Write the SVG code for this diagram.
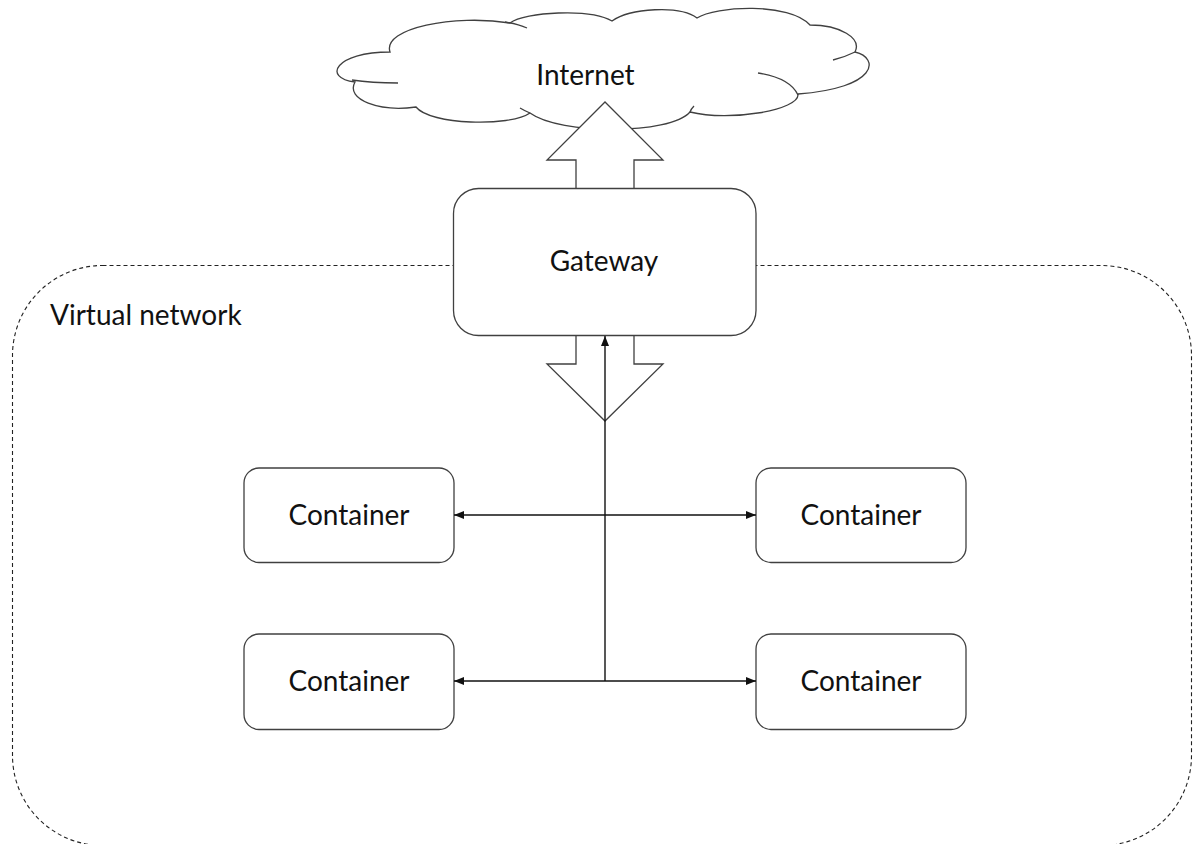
<svg xmlns="http://www.w3.org/2000/svg" width="1193" height="844" viewBox="0 0 1193 844">
<defs>
<style>
.box{fill:#fff;stroke:#404040;stroke-width:1.3}
.fat{fill:#fff;stroke:#404040;stroke-width:1.3;stroke-linejoin:miter}
.cloud{fill:#fff;stroke:#404040;stroke-width:1.3}
.inner{fill:none;stroke:#404040;stroke-width:1.3}
.dash{fill:none;stroke:#222;stroke-width:1.1;stroke-dasharray:4 3}
.lbl{font-family:Lato,"Liberation Sans",sans-serif;font-size:28px;fill:#111}
.conn{fill:none;stroke:#111;stroke-width:1.4}
</style>
<marker id="ah" viewBox="0 0 10 8" refX="10" refY="4" markerWidth="10" markerHeight="8" markerUnits="userSpaceOnUse" orient="auto-start-reverse">
<path d="M0,0 L10,4 L0,8 Z" fill="#111"/>
</marker>
</defs>

<g id="virtual-network">
<rect class="dash" x="12.5" y="265.5" width="1179" height="580" rx="90" ry="90"/>
<text class="lbl" x="50" y="325">Virtual network</text>
</g>

<g id="internet">
<path class="cloud" d="M390,52 C382,28 455,14 510,23 C525,12 590,8 612,21 C630,8 680,5 697,18 C715,6 790,2 810,25 C840,25 862,38 855,52 C880,58 878,88 798,94 C800,110 730,122 690,112 C670,135 560,135 530,113 C510,127 430,125 416,107 C380,112 345,100 355,82 C322,78 335,52 390,52 Z"/>
<path class="inner" d="M352,80 C365,82 385,83 398,83"/>
<path class="inner" d="M505,22 Q518,24 527,28"/>
<path class="inner" d="M855,52 Q845,57 833,60"/>
<path class="inner" d="M758,73 Q790,78 798,95"/>
<path class="inner" d="M690,112 Q691,109 694,106"/>
<path class="inner" d="M530,113 Q525,111 520,108"/>
<text class="lbl" x="585.5" y="85" text-anchor="middle">Internet</text>
</g>

<g id="arrow-up">
<polygon class="fat" points="576,189 576,160 547,160 605,102 663,160 634,160 634,189"/>
</g>
<g id="arrow-down">
<polygon class="fat" points="576,335 576,364 547,364 605,421 663,364 634,364 634,335"/>
</g>

<g id="gateway">
<rect class="box" x="453.5" y="188.5" width="302.5" height="147" rx="25" ry="25"/>
<text class="lbl" x="604" y="271" text-anchor="middle">Gateway</text>
</g>

<g id="container-tl">
<rect class="box" x="244" y="468" width="210" height="94.5" rx="15" ry="15"/>
<text class="lbl" x="349" y="525" text-anchor="middle">Container</text>
</g>
<g id="container-tr">
<rect class="box" x="756" y="468" width="210" height="94.5" rx="15" ry="15"/>
<text class="lbl" x="861" y="525" text-anchor="middle">Container</text>
</g>
<g id="container-bl">
<rect class="box" x="244" y="634" width="210" height="95.5" rx="15" ry="15"/>
<text class="lbl" x="349" y="691" text-anchor="middle">Container</text>
</g>
<g id="container-br">
<rect class="box" x="756" y="634" width="210" height="95.5" rx="15" ry="15"/>
<text class="lbl" x="861" y="691" text-anchor="middle">Container</text>
</g>

<g id="connectors">
<line class="conn" x1="605" y1="681" x2="605" y2="336" marker-end="url(#ah)"/>
<line class="conn" x1="454" y1="515" x2="756" y2="515" marker-start="url(#ah)" marker-end="url(#ah)"/>
<line class="conn" x1="454" y1="681" x2="756" y2="681" marker-start="url(#ah)" marker-end="url(#ah)"/>
</g>
</svg>
